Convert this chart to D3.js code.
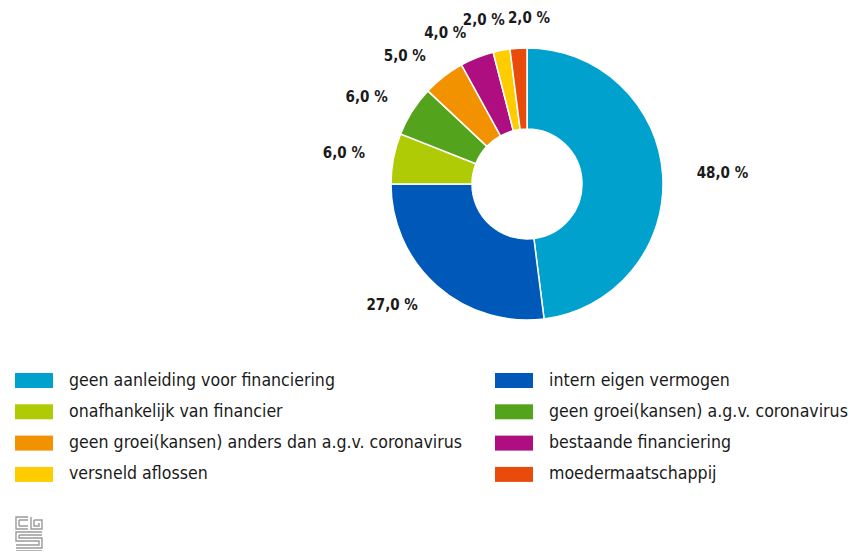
<!DOCTYPE html>
<html>
<head>
<meta charset="utf-8">
<script src="https://cdn.jsdelivr.net/npm/d3@7"></script>
<style>
  body { margin: 0; background: #fff; }
  svg text { font-family: "Liberation Sans Narrow", "DejaVu Sans Condensed", "Open Sans", sans-serif; fill: #1a1a1a; }
  .lbl { font-weight: bold; font-size: 15px; }
  .leg { font-size: 17.6px; }
</style>
</head>
<body>
<svg id="chart" width="848" height="551"></svg>
<script>
const categories = [
  "geen aanleiding voor financiering",
  "intern eigen vermogen",
  "onafhankelijk van financier",
  "geen groei(kansen) a.g.v. coronavirus",
  "geen groei(kansen) anders dan a.g.v. coronavirus",
  "bestaande financiering",
  "versneld aflossen",
  "moedermaatschappij"
];
const values = [48, 27, 6, 6, 5, 4, 2, 2];
const colors = ["#00a1cd", "#0058b8", "#afcb05", "#53a31d", "#f39200", "#af0e80", "#ffcc00", "#e94c0a"];
// legend is laid out in two columns, row by row
const legendOrder = [0, 1, 2, 3, 4, 5, 6, 7];

const svg = d3.select('#chart');
const cx = 527, cy = 184;
const outerR = 136, innerR = 55, labelRx = 165, labelRy = 162;

const data = categories.map((c, i) => ({ name: c, value: values[i], color: colors[i] }));

const pie = d3.pie().value(d => d.value).sort(null);
const arc = d3.arc().innerRadius(innerR).outerRadius(outerR);
const arcs = pie(data);

const g = svg.append('g').attr('transform', `translate(${cx},${cy})`);

g.selectAll('path')
  .data(arcs)
  .join('path')
  .attr('d', arc)
  .attr('fill', d => d.data.color)
  .attr('stroke', '#fff')
  .attr('stroke-width', 1.5);

// labels: position by mid angle, then push apart the ones that collide near the top
const fmt = v => d3.format('.1f')(v).replace('.', ',') + ' %';
const labels = arcs.map(d => {
  const a = (d.startAngle + d.endAngle) / 2;
  const s = Math.sin(a), c = Math.cos(a);
  let anchor = 'middle', dx = 0, dy = -4;
  if (s > 0.3) { anchor = 'start'; dx = 5; dy = 0; }
  else if (s < -0.3) { anchor = 'end'; dy = 0; }
  return { text: fmt(d.data.value), x: labelRx * s + dx, y: -labelRy * c + dy, anchor: anchor };
});

const lblSel = g.selectAll('text.lbl')
  .data(labels)
  .join('text')
  .attr('class', 'lbl')
  .attr('text-anchor', d => d.anchor)
  .attr('dominant-baseline', 'middle')
  .attr('x', d => d.x)
  .attr('y', d => d.y)
  .text(d => d.text);

// simple collision pass for the middle-anchored labels
const mids = labels.filter(d => d.anchor === 'middle');
lblSel.each(function(d) { d.w = this.getComputedTextLength(); });
for (let k = 0; k < 20; k++) {
  for (let i = 1; i < mids.length; i++) {
    const a = mids[i - 1], b = mids[i];
    const gap = 3;
    const overlap = (a.x + a.w / 2 + gap) - (b.x - b.w / 2);
    if (overlap > 0) { a.x -= overlap / 2; b.x += overlap / 2; }
  }
}
lblSel.attr('x', d => d.x);

// legend
const legend = svg.append('g');
const colX = [15, 495], rowY0 = 380.5, rowH = 31.3;
legendOrder.forEach((idx, k) => {
  const col = k % 2, row = Math.floor(k / 2);
  const y = rowY0 + row * rowH;
  legend.append('rect')
    .attr('x', colX[col]).attr('y', y - 7.5)
    .attr('width', 38).attr('height', 15)
    .attr('fill', data[idx].color);
  legend.append('text')
    .attr('class', 'leg')
    .attr('x', colX[col] + 54).attr('y', y)
    .attr('dominant-baseline', 'middle')
    .text(data[idx].name);
});

// cbs logo
const logo = svg.append('g')
  .attr('transform', 'translate(15,516)')
  .attr('fill', 'none')
  .attr('stroke', '#9a9a9a')
  .attr('stroke-width', 1.4);
logo.append('path').attr('d', 'M13,1 H1 V13 H13 M4,4 H13 M4,10 H13 M4,4 V10');
logo.append('path').attr('d', 'M16,1 V13 H27 V4 H19 M19,4 V10 H24 V7');
logo.append('path').attr('d', 'M27,16 H1 V25 H24 V29 H1 M4,19 H27 M4,19 V22 H27 V32 H1 M1,35 H27');
</script>
</body>
</html>
